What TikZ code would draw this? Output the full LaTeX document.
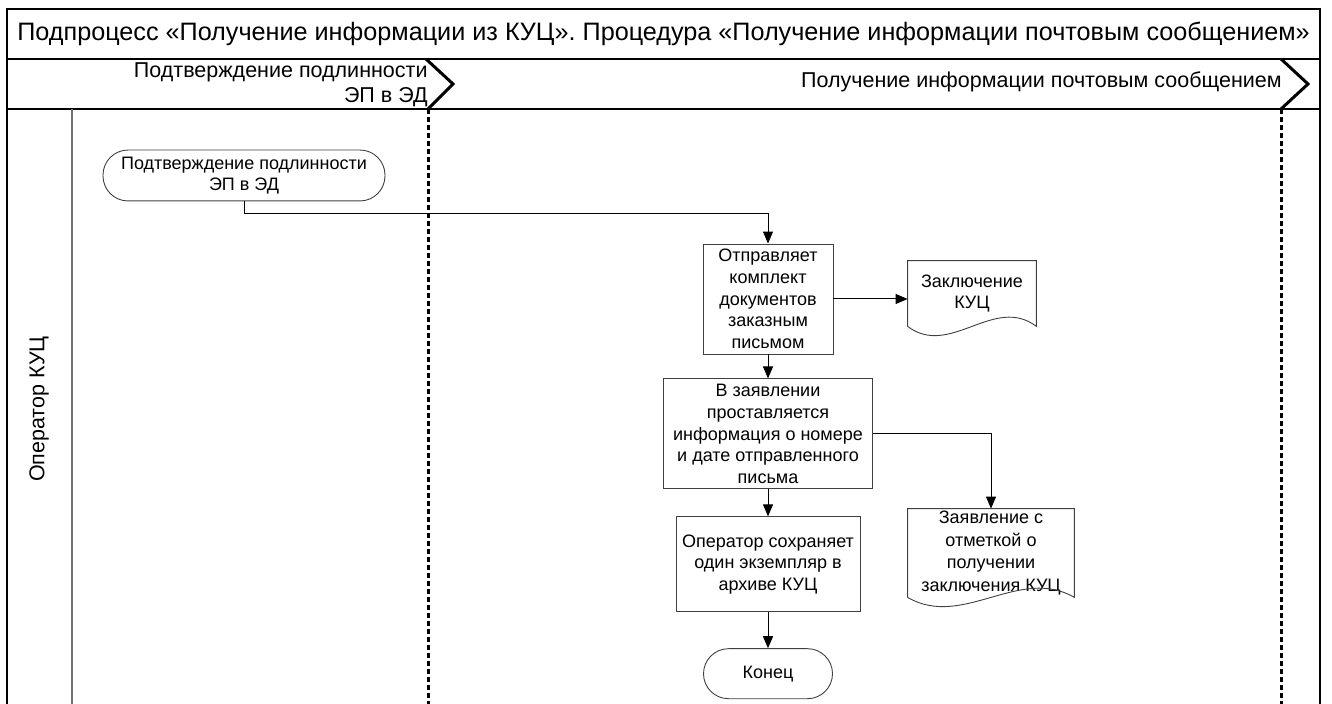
\documentclass[tikz,border=0pt]{standalone}
\usepackage{fontspec}
\setmainfont{Liberation Sans}
\usetikzlibrary{arrows.meta, positioning, calc}

% document shape with wavy bottom, drawn round a borderless node
\newcommand\docwave[1]{%
  \draw[shapeline] (#1.south west) -- (#1.north west) -- (#1.north east) -- (#1.south east)
    .. controls ($(#1.south west)!0.67!(#1.south east)+(0,16pt)$) and ($(#1.south west)!0.33!(#1.south east)+(0,-16pt)$) .. (#1.south west);}

\begin{document}
\begin{tikzpicture}[x=0.5pt, y=-0.5pt,
  every node/.style={font=\fontsize{9}{10.8}\selectfont},
  bigtext/.style={font=\fontsize{10.75}{12.3}\selectfont},
  frame/.style={line width=0.9pt},
  laneline/.style={line width=0.8pt, draw=black!55},
  chevron/.style={line width=1.5pt},
  phaseline/.style={line width=1.5pt, dash pattern=on 2.5pt off 1.5pt},
  shapeline/.style={draw=black!75, line width=0.45pt},
  process/.style={shapeline, align=center, inner sep=2pt},
  terminal/.style={shapeline, align=center, rounded corners=12.5pt, minimum height=25pt},
  docnode/.style={align=center, inner sep=0pt},
  flow/.style={-{Triangle[length=6pt, width=5pt]}, line width=0.5pt}]
\useasboundingbox (0,0) rectangle (1332,704);
% Frame and lanes
\draw[frame] (7,9) rectangle (1320,59);
\draw[frame] (7,59) -- (7,704) (1320,59) -- (1320,704) (7,109) -- (1320,109);
\draw[laneline] (72,109) -- (72,704);
\node[font=\fontsize{12.6}{15}\selectfont] (title) at (663.5,34) {Подпроцесс «Получение информации из КУЦ». Процедура «Получение информации почтовым сообщением»};
\node[bigtext, rotate=90] (lane) at (39,409) {Оператор КУЦ};
% Phases
\draw[chevron] (426,59) -- (453,84) -- (428,109);
\draw[phaseline] (428,109) -- (428,704);
\draw[chevron] (1281,59) -- (1308,84) -- (1281,109);
\draw[phaseline] (1281,109) -- (1281,704);
\node[bigtext, align=right, anchor=east, inner sep=0pt] (phaseA) at (428,85) {Подтверждение подлинности\\ЭП в ЭД};
\node[bigtext, anchor=east, inner sep=0pt] (phaseB) at (1282,82) {Получение информации почтовым сообщением};
% Sequence
\node[terminal, minimum width=141pt] (Start) at (244,175.5) {Подтверждение подлинности\\ЭП в ЭД};
\node[process, minimum width=65pt, minimum height=55pt] (Send) at (768,299) {Отправляет\\комплект\\документов\\заказным\\письмом};
\node[process, minimum width=104.5pt, minimum height=55pt, below=12pt of Send] (Mark) {В заявлении\\проставляется\\информация о номере\\и дате отправленного\\письма};
\node[process, minimum width=92pt, minimum height=47.5pt, below=13.5pt of Mark] (Keep) {Оператор сохраняет\\один экземпляр в\\архиве КУЦ};
\node[terminal, minimum width=64.5pt, below=18pt of Keep] (End) {Конец};
% Documents
\node[docnode, minimum width=64pt, minimum height=32.5pt] (Conclusion) at (972,293.5) {Заключение\\КУЦ};
\docwave{Conclusion}
\node[docnode, minimum width=83pt, minimum height=44pt, font=\fontsize{9}{11.2}\selectfont] (Statement) at (991,553) {Заявление с\\отметкой о\\получении\\заключения КУЦ};
\docwave{Statement}
% Arrows
\draw[flow] (Start.south) -- ++(0,-6pt) -| (Send.north);
\draw[flow] (Send.east) -- (Conclusion.west |- Send.east);
\draw[flow] (Send) -- (Mark);
\draw[flow] (Mark.east) -| (Statement.north);
\draw[flow] (Mark) -- (Keep);
\draw[flow] (Keep) -- (End);
\end{tikzpicture}
\end{document}
